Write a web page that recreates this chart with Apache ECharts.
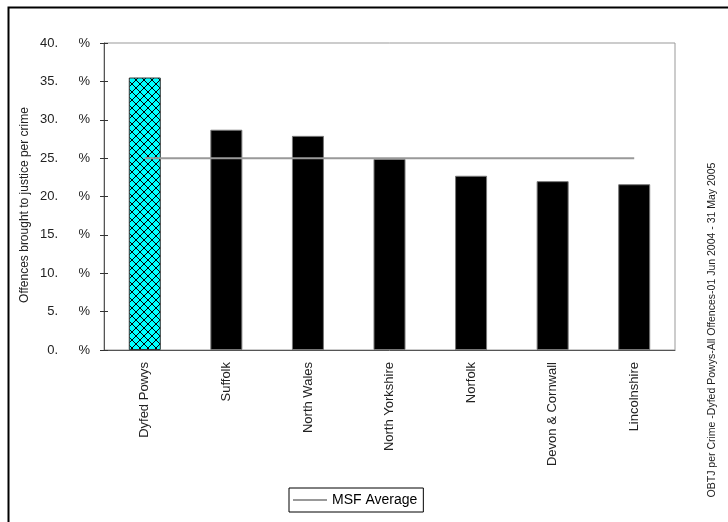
<!DOCTYPE html>
<html>
<head>
<meta charset="utf-8">
<script src="https://cdn.jsdelivr.net/npm/echarts@6/dist/echarts.min.js"></script>
<style>
  html, body { margin: 0; padding: 0; background: #fff; }
  #chart { width: 728px; height: 522px; }
</style>
</head>
<body>
<div id="chart"></div>
<script>
// categories and values
var forces = ['Dyfed Powys', 'Suffolk', 'North Wales', 'North Yorkshire', 'Norfolk', 'Devon & Cornwall', 'Lincolnshire']
var obtjRate = [35.5, 28.7, 27.9, 24.9, 22.7, 22.0, 21.6]
var msfAverage = [25, 25, 25, 25, 25, 25, 25]

// cyan cross-hatch for the highlighted force
function hatch () {
  var c = document.createElement('canvas')
  c.width = 8
  c.height = 8
  var ctx = c.getContext('2d')
  ctx.fillStyle = '#00ffff'
  ctx.fillRect(0, 0, 8, 8)
  ctx.strokeStyle = '#000'
  ctx.lineWidth = 1
  ctx.beginPath()
  ctx.moveTo(0, 0); ctx.lineTo(8, 8)
  ctx.moveTo(8, 0); ctx.lineTo(0, 8)
  ctx.stroke()
  return { image: c, repeat: 'repeat' }
}

var chart = echarts.init(document.getElementById('chart'))
var font = 'Arial, "Liberation Sans", sans-serif'

var barData = obtjRate.map(function (v, i) {
  if (i === 0) {
    return { value: v, itemStyle: { color: hatch(), borderColor: '#333' } }
  }
  return v
})

var option = {
  animation: false,
  backgroundColor: '#fff',
  textStyle: { fontFamily: font },
  grid: {
    left: 104, right: 53, top: 43, bottom: 172,
    show: true, borderColor: '#999', borderWidth: 1
  },
  legend: {
    data: [{ name: 'MSF Average', icon: 'rect' }],
    left: 289, top: 488,
    padding: [5, 6, 5, 4],
    borderColor: '#000', borderWidth: 1,
    itemWidth: 34, itemHeight: 2, itemGap: 4,
    textStyle: { color: '#000', fontSize: 14, fontFamily: font }
  },
  xAxis: [{
    type: 'category',
    data: forces,
    axisLine: { lineStyle: { color: '#555', width: 1 } },
    axisTick: { length: 4, lineStyle: { color: '#333' } },
    axisLabel: { rotate: 90, color: '#222', fontSize: 13, margin: 12, fontFamily: font }
  }, {
    type: 'category',
    data: forces,
    position: 'bottom',
    axisLine: { show: false },
    axisTick: { inside: true, length: 4, lineStyle: { color: '#333' } },
    axisLabel: { show: false }
  }],
  yAxis: [{
    type: 'value',
    min: 0, max: 40, interval: 5,
    axisLine: { show: true, lineStyle: { color: '#555', width: 1 } },
    axisTick: { show: true, length: 4, lineStyle: { color: '#333' } },
    splitLine: { show: false },
    axisLabel: {
      margin: 14,
      formatter: function (v) { return '{n|' + v + '.}{p|%}' },
      rich: {
        n: { fontSize: 13, color: '#222', fontFamily: font, align: 'right' },
        p: { fontSize: 13, color: '#222', fontFamily: font, width: 32, align: 'right' }
      }
    }
  }, {
    type: 'value',
    min: 0, max: 40, interval: 5,
    position: 'left',
    axisLine: { show: false },
    axisTick: { show: true, inside: true, length: 4, lineStyle: { color: '#333' } },
    axisLabel: { show: false },
    splitLine: { show: false }
  }],
  series: [{
    name: 'OBTJ',
    type: 'bar',
    barWidth: 32,
    data: barData,
    itemStyle: { color: '#000', borderColor: '#777', borderWidth: 1 }
  }, {
    name: 'MSF Average',
    type: 'line',
    data: msfAverage,
    symbol: 'none',
    lineStyle: { color: '#999', width: 2 },
    itemStyle: { color: '#999' }
  }],
  graphic: [{
    type: 'rect',
    shape: { x: 8.5, y: 7.5, width: 800, height: 600 },
    style: { fill: null, stroke: '#000', lineWidth: 2 },
    silent: true
  }, {
    type: 'text',
    x: 25, y: 205,
    rotation: Math.PI / 2,
    style: {
      text: 'Offences brought to justice per crime',
      fill: '#222', fontSize: 12, fontFamily: font,
      align: 'center', verticalAlign: 'middle'
    }
  }, {
    type: 'text',
    x: 712, y: 330,
    rotation: Math.PI / 2,
    style: {
      text: 'OBTJ per Crime -Dyfed Powys-All Offences-01 Jun 2004 - 31 May 2005',
      fill: '#222', fontSize: 10.5, fontFamily: font,
      align: 'center', verticalAlign: 'middle'
    }
  }]
}

chart.setOption(option)
</script>
</body>
</html>
